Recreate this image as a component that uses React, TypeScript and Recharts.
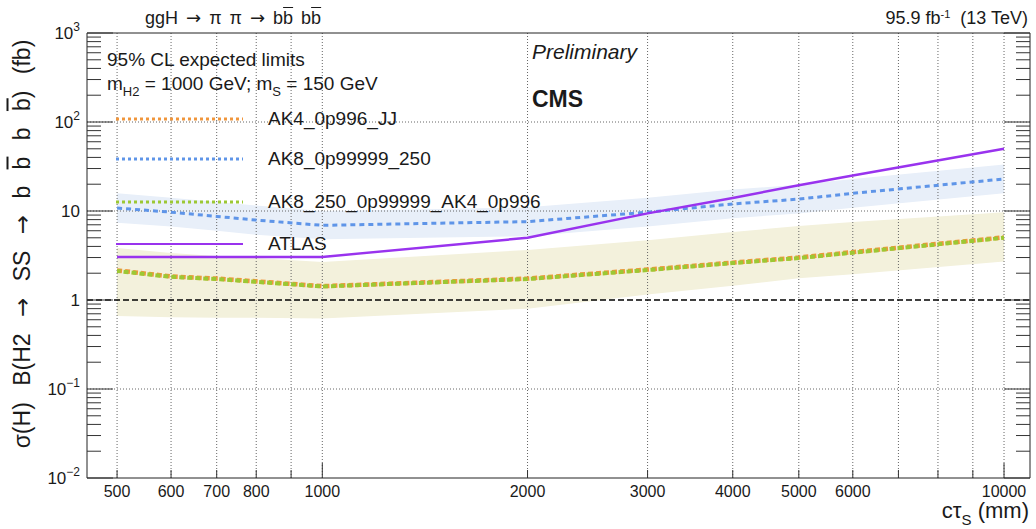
import { ComposedChart, Area, Line, XAxis, YAxis, ReferenceLine } from 'recharts'

// cτ_S points (mm)
const ctau = [500, 600, 700, 800, 1000, 2000, 3000, 4000, 5000, 6000, 10000]

// expected limits (fb)
const ak4JJ = [2.15, 1.84, 1.74, 1.62, 1.43, 1.74, 2.2, 2.63, 3.0, 3.45, 5.05]
const ak8 = [10.8, 9.7, 8.7, 7.9, 6.9, 7.6, 9.7, 12, 13.6, 15.8, 22.9]
const ak8Up = [15.8, 14.1, 12.6, 11.5, 10.0, 11.0, 14.1, 17.4, 19.7, 22.9, 33.2]
const ak8Down = [7.4, 6.7, 6.0, 5.4, 4.8, 5.2, 6.7, 8.3, 9.4, 10.9, 15.8]
const combo = [2.12, 1.82, 1.72, 1.6, 1.42, 1.72, 2.17, 2.6, 2.96, 3.4, 5.0]
const comboUp = [3.84, 3.37, 3.12, 2.96, 2.67, 3.65, 4.7, 5.8, 6.8, 7.5, 9.7]
const comboDown = [0.66, 0.64, 0.63, 0.63, 0.62, 0.8, 1.15, 1.45, 1.75, 1.95, 2.7]
const atlas = [3.05, 3.05, 3.05, 3.05, 3.05, 5.0, 9.4, 14, 19.5, 25, 50]

// axis ticks
const xTicks = [500, 600, 700, 800, 900, 1000, 2000, 3000, 4000, 5000, 6000, 7000, 8000, 9000, 10000]
const xLabeled = [500, 600, 700, 800, 1000, 2000, 3000, 4000, 5000, 6000, 10000]
const xMajor = [1000, 10000]
const yMajor = [0.01, 0.1, 1, 10, 100, 1000]
const yMajorBase = ['10', '10', '1', '10', '10', '10']
const yMajorExp = ['\u22122', '\u22121', '', '', '2', '3']
const yGrid = [0.1, 100, 10]

const yTicks: number[] = []
yMajor.forEach((d, i) => {
  yTicks.push(d)
  if (i < yMajor.length - 1) for (let k = 2; k <= 9; k++) yTicks.push(+(d * k).toPrecision(3))
})

const data = ctau.map((x, i) => ({
  x,
  ak4JJ: ak4JJ[i],
  ak8: ak8[i],
  ak8Band: [ak8Down[i], ak8Up[i]],
  combo: combo[i],
  comboBand: [comboDown[i], comboUp[i]],
  atlas: atlas[i],
}))

const W = 1036
const H = 529
const FONT = '"Liberation Sans", Arial, Helvetica, sans-serif'
const INK = '#1a1a1a'

const ORANGE = '#f0963c'
const BLUE = '#5f95e8'
const GREEN = '#9cc834'
const PURPLE = '#9933ee'

function LeftTick({ x, y, payload }: any) {
  const i = yMajor.indexOf(payload.value)
  return (
    <g>
      <line x1={x} x2={x + (i >= 0 ? 26 : 14)} y1={y} y2={y} stroke="#333" />
      {i >= 0 && (
        <text x={x - 7} y={y + 6} textAnchor="end" fontSize={17} fill={INK} fontFamily={FONT}>
          {yMajorBase[i]}
          {yMajorExp[i] && <tspan dy={-8} fontSize={12}>{yMajorExp[i]}</tspan>}
        </text>
      )}
    </g>
  )
}

function RightTick({ x, y, payload }: any) {
  const len = yMajor.includes(payload.value) ? 26 : 14
  return <line x1={x} x2={x - len} y1={y} y2={y} stroke="#333" />
}

function BottomTick({ x, y, payload }: any) {
  const len = xMajor.includes(payload.value) ? 15 : 8
  return (
    <g>
      <line x1={x} x2={x} y1={y} y2={y - len} stroke="#333" />
      {xLabeled.includes(payload.value) && (
        <text x={x} y={y + 19} textAnchor="middle" fontSize={16} fill={INK} fontFamily={FONT}>
          {payload.value}
        </text>
      )}
    </g>
  )
}

function TopTick({ x, y, payload }: any) {
  const len = xMajor.includes(payload.value) ? 15 : 8
  return <line x1={x} x2={x} y1={y} y2={y + len} stroke="#333" />
}

const over = { textDecoration: 'overline' as const }
const Arrow = () => <span style={{ fontFamily: '"DejaVu Sans"' }}>→</span>

const legendRows = [
  { label: 'AK4_0p996_JJ', color: ORANGE, dash: '3 3', width: 3, y: 119 },
  { label: 'AK8_0p99999_250', color: BLUE, dash: '3 3', width: 3, y: 159 },
  { label: 'AK8_250_0p99999_AK4_0p996', color: GREEN, dash: '3 3', width: 3, y: 202 },
  { label: 'ATLAS', color: PURPLE, dash: undefined, width: 2, y: 244 },
]

export default function App() {
  const abs = (s: React.CSSProperties): React.CSSProperties => ({
    position: 'absolute', whiteSpace: 'nowrap', lineHeight: 1, color: INK, ...s,
  })
  return (
    <div style={{ position: 'absolute', left: 0, top: 0, width: W, height: H, background: '#fff', fontFamily: FONT }}>
      <ComposedChart width={W} height={H} data={data} margin={{ top: 0, right: 0, bottom: 0, left: 0 }}>
        <XAxis dataKey="x" type="number" scale="log" domain={[451.7, 10917]} allowDataOverflow
          ticks={xTicks} interval={0} tickSize={0} tickMargin={0} height={51}
          axisLine={{ stroke: '#222' }} tick={<BottomTick />} />
        <XAxis xAxisId="top" orientation="top" type="number" scale="log" domain={[451.7, 10917]} allowDataOverflow
          ticks={xTicks} interval={0} tickSize={0} tickMargin={0} height={33}
          axisLine={{ stroke: '#222' }} tick={<TopTick />} />
        <YAxis type="number" scale="log" domain={[0.01, 1000]} allowDataOverflow
          ticks={yTicks} interval={0} tickSize={0} tickMargin={0} width={87}
          axisLine={{ stroke: '#222' }} tick={<LeftTick />} />
        <YAxis yAxisId="right" orientation="right" type="number" scale="log" domain={[0.01, 1000]} allowDataOverflow
          ticks={yTicks} interval={0} tickSize={0} tickMargin={0} width={6}
          axisLine={{ stroke: '#222' }} tick={<RightTick />} />

        <Area dataKey="ak8Band" stroke="none" fill="#e8eff9" fillOpacity={1} isAnimationActive={false} />
        <Area dataKey="comboBand" stroke="none" fill="#f3f1dc" fillOpacity={1} isAnimationActive={false} />

        {xTicks.map((v) => (
          <ReferenceLine key={`gx${v}`} x={v} stroke="#666" strokeDasharray="1 2" />
        ))}
        {yGrid.map((v) => (
          <ReferenceLine key={`gy${v}`} y={v} stroke="#666" strokeDasharray="1 2" />
        ))}

        <Line dataKey="ak8" stroke={BLUE} strokeWidth={3} strokeDasharray="5 4" dot={false} isAnimationActive={false} />
        <Line dataKey="ak4JJ" stroke={ORANGE} strokeWidth={4.5} strokeDasharray="5 3" dot={false} isAnimationActive={false} />
        <Line dataKey="combo" stroke={GREEN} strokeWidth={4} strokeDasharray="5 3" strokeDashoffset={1.5} dot={false} isAnimationActive={false} />
        <Line dataKey="atlas" stroke={PURPLE} strokeWidth={2.5} dot={false} isAnimationActive={false} />
        <ReferenceLine y={1} stroke="#000" strokeWidth={1.3} strokeDasharray="6 3" />
      </ComposedChart>

      <svg width={W} height={H} style={{ position: 'absolute', left: 0, top: 0, pointerEvents: 'none' }}>
        {legendRows.map((r) => (
          <line key={r.label} x1={116} x2={243} y1={r.y} y2={r.y} stroke={r.color} strokeWidth={r.width} strokeDasharray={r.dash} />
        ))}
      </svg>
      {legendRows.map((r) => (
        <div key={r.label} style={abs({ left: 268, top: r.y - 10, fontSize: 19 })}>{r.label}</div>
      ))}

      <div style={abs({ left: 145, top: 9, fontSize: 18, wordSpacing: 3 })}>
        ggH <Arrow /> π π <Arrow /> b<span style={over}>b</span> b<span style={over}>b</span>
      </div>
      <div style={abs({ right: 8, top: 9, fontSize: 18 })}>
        95.9 fb<sup style={{ fontSize: 11, verticalAlign: 6 }}>-1</sup>&nbsp; (13 TeV)
      </div>
      <div style={abs({ left: 107, top: 50, fontSize: 19 })}>95% CL expected limits</div>
      <div style={abs({ left: 107, top: 74, fontSize: 19 })}>
        m<sub style={{ fontSize: 13, verticalAlign: -6 }}>H2</sub> = 1000 GeV; m<sub style={{ fontSize: 13, verticalAlign: -6 }}>S</sub> = 150 GeV
      </div>
      <div style={abs({ left: 532, top: 41, fontSize: 21, fontStyle: 'italic' })}>Preliminary</div>
      <div style={abs({ left: 532, top: 88, fontSize: 23, fontWeight: 700 })}>CMS</div>
      <div style={abs({ right: 7, top: 500, fontSize: 22 })}>
        cτ<sub style={{ fontSize: 15, verticalAlign: -7 }}>S</sub> (mm)
      </div>
      <div style={abs({
        left: 22, top: 244, fontSize: 23, wordSpacing: 10,
        transform: 'translate(-50%, -50%) rotate(-90deg)',
      })}>
        σ(H) B(H2 <Arrow /> SS <Arrow /> b <span style={over}>b</span> b <span style={over}>b</span>) (fb)
      </div>
    </div>
  )
}
